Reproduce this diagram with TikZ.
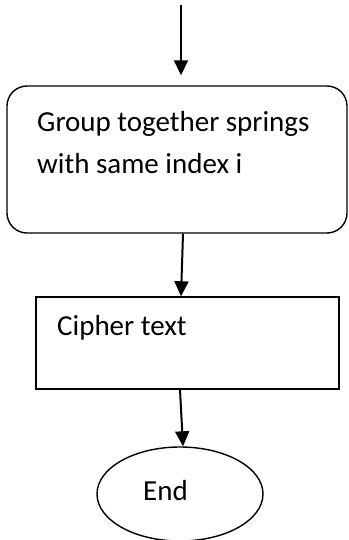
\documentclass[tikz,border=0pt]{standalone}
\usepackage{fontspec}
\setmainfont{Carlito}
\usetikzlibrary{arrows.meta,shapes.geometric}
\begin{document}
\begin{tikzpicture}[x=1pt,y=-1pt,
  flowarrow/.style={line width=2pt,-{Triangle[width=14pt,length=15pt]}},
  shapeline/.style={draw,line width=1.4pt,inner sep=0pt},
  label/.style={font=\fontsize{29}{42}\selectfont,inner sep=0pt,anchor=base west}]
\useasboundingbox (0,0) rectangle (348,540);
\node[shapeline,rounded corners=20pt,minimum width=340pt,minimum height=147pt] (box1) at (177,159.5) {};
\node[shapeline,minimum width=303pt,minimum height=92pt] (box2) at (187.5,343) {};
\node[shapeline,ellipse,minimum width=166pt,minimum height=94pt] (endnode) at (180,494) {};
\node[label] (t1) at (37,132) {Group together springs};
\node[label] (t2) at (37,174) {with same index i};
\node[label] (t3) at (57,335) {Cipher text};
\node[label,anchor=base] (t4) at (165.5,500) {End};
\coordinate (start) at (181,5);
\draw[flowarrow] (start) -- ([xshift=4pt,yshift=10pt]box1.north);
\draw[flowarrow] ([xshift=6pt]box1.south) -- ([xshift=-6.5pt]box2.north);
\draw[flowarrow] ([xshift=-7.5pt]box2.south) -- ([xshift=3pt]endnode.north);
\end{tikzpicture}
\end{document}
